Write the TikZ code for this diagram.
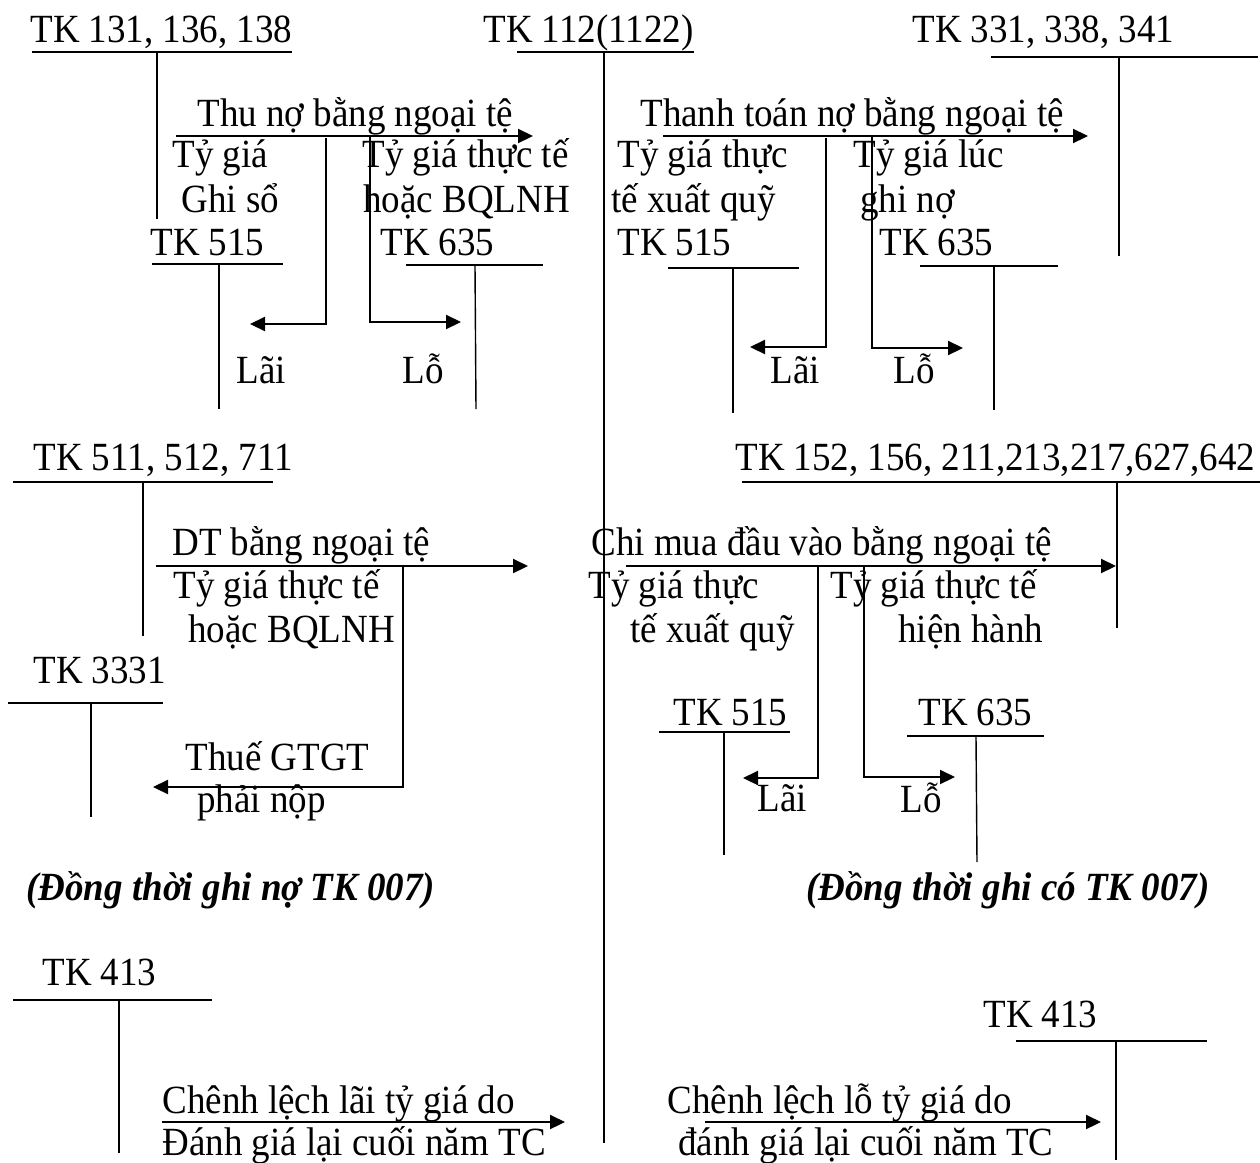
\documentclass[tikz,border=0pt]{standalone}
\usepackage{fontspec}
\usepackage{graphicx}
\setmainfont{Liberation Serif}
\usetikzlibrary{arrows.meta}
\newcommand{\sx}[1]{\scalebox{0.925}[1]{#1}}
\begin{document}
\begin{tikzpicture}[x=0.5pt,y=-0.5pt,
  lbl/.style={anchor=base west,inner sep=0pt,font=\fontsize{20}{23}\selectfont},
  note/.style={anchor=base west,inner sep=0pt,font=\fontsize{20}{23}\selectfont\bfseries\itshape},
  tline/.style={line width=0.7pt},
  arr/.style={line width=1.1pt,-{Triangle[length=7.5pt,width=7pt]}}]
\useasboundingbox[fill=white] (0,0) rectangle (1260,1163);

% ===== TK 131 =====
\node[lbl] (t131) at (30,42) {\sx{TK 131, 136, 138}};
\coordinate (t131L) at (32,52); \coordinate (t131R) at (292,52);
\coordinate (t131T) at (157,52); \coordinate (t131B) at (157,219);
\draw[tline] (t131L) -- (t131R); \draw[tline] (t131T) -- (t131B);

% ===== TK 112 =====
\node[lbl] (t112) at (483,42) {\sx{TK 112(1122)}};
\coordinate (t112L) at (517,52); \coordinate (t112R) at (694,52);
\coordinate (t112T) at (604,52); \coordinate (t112B) at (604,1143);
\draw[tline] (t112L) -- (t112R); \draw[tline] (t112T) -- (t112B);

% ===== TK 331 =====
\node[lbl] (t331) at (912,42) {\sx{TK 331, 338, 341}};
\coordinate (t331L) at (991,57); \coordinate (t331R) at (1258,57);
\coordinate (t331T) at (1119,57); \coordinate (t331B) at (1119,256);
\draw[tline] (t331L) -- (t331R); \draw[tline] (t331T) -- (t331B);

% ===== Thu no =====
\node[lbl] (thuno) at (197,126) {\sx{Thu nợ bằng ngoại tệ}};
\coordinate (a1s) at (176,136); \coordinate (a1e) at (533,136);
\draw[arr] (a1s) -- (a1e);
\node[lbl] (tg1a) at (172,167) {\sx{Tỷ giá}};
\node[lbl] (tg1b) at (181,212) {\sx{Ghi sổ}};
\node[lbl] (tg2a) at (362,167) {\sx{Tỷ giá thực tế}};
\node[lbl] (tg2b) at (363,212) {\sx{hoặc BQLNH}};
\coordinate (b1s) at (326,138); \coordinate (b1c) at (326,324); \coordinate (b1e) at (250,324);
\draw[arr] (b1s) -- (b1c) -- (b1e);
\coordinate (b2s) at (370,136); \coordinate (b2c) at (370,322); \coordinate (b2e) at (461,322);
\draw[arr] (b2s) -- (b2c) -- (b2e);
\node[lbl] (k515a) at (150,255) {\sx{TK 515}};
\coordinate (k515aL) at (152,264); \coordinate (k515aR) at (283,264);
\coordinate (k515aT) at (219,264); \coordinate (k515aB) at (219,409);
\draw[tline] (k515aL) -- (k515aR); \draw[tline] (k515aT) -- (k515aB);
\node[lbl] (k635a) at (380,255) {\sx{TK 635}};
\coordinate (k635aL) at (406,265); \coordinate (k635aR) at (543,265);
\coordinate (k635aT) at (475,265); \coordinate (k635aB) at (476,409);
\draw[tline] (k635aL) -- (k635aR); \draw[tline] (k635aT) -- (k635aB);
\node[lbl] (lai1) at (236,383) {\sx{Lãi}};
\node[lbl] (lo1) at (402,383) {\sx{Lỗ}};

% ===== Thanh toan no =====
\node[lbl] (ttno) at (640,126) {\sx{Thanh toán nợ bằng ngoại tệ}};
\coordinate (a2s) at (663,136); \coordinate (a2e) at (1088,136);
\draw[arr] (a2s) -- (a2e);
\node[lbl] (tg3a) at (617,167) {\sx{Tỷ giá thực}};
\node[lbl] (tg3b) at (611,212) {\sx{tế xuất quỹ}};
\node[lbl] (tg4a) at (853,167) {\sx{Tỷ giá lúc}};
\node[lbl] (tg4b) at (860,212) {\sx{ghi nợ}};
\coordinate (b3s) at (826,138); \coordinate (b3c) at (826,347); \coordinate (b3e) at (750,347);
\draw[arr] (b3s) -- (b3c) -- (b3e);
\coordinate (b4s) at (872,136); \coordinate (b4c) at (872,348); \coordinate (b4e) at (963,348);
\draw[arr] (b4s) -- (b4c) -- (b4e);
\node[lbl] (k515b) at (617,255) {\sx{TK 515}};
\coordinate (k515bL) at (668,268); \coordinate (k515bR) at (799,268);
\coordinate (k515bT) at (733,268); \coordinate (k515bB) at (733,413);
\draw[tline] (k515bL) -- (k515bR); \draw[tline] (k515bT) -- (k515bB);
\node[lbl] (k635b) at (879,255) {\sx{TK 635}};
\coordinate (k635bL) at (920,266); \coordinate (k635bR) at (1058,266);
\coordinate (k635bT) at (994,266); \coordinate (k635bB) at (994,410);
\draw[tline] (k635bL) -- (k635bR); \draw[tline] (k635bT) -- (k635bB);
\node[lbl] (lai2) at (770,383) {\sx{Lãi}};
\node[lbl] (lo2) at (893,383) {\sx{Lỗ}};

% ===== TK 511 =====
\node[lbl] (t511) at (33,470) {\sx{TK 511, 512, 711}};
\coordinate (t511L) at (13,482); \coordinate (t511R) at (273,482);
\coordinate (t511T) at (143,482); \coordinate (t511B) at (143,636);
\draw[tline] (t511L) -- (t511R); \draw[tline] (t511T) -- (t511B);
\node[lbl] (dt) at (172,555) {\sx{DT bằng ngoại tệ}};
\coordinate (a3s) at (156,566); \coordinate (a3e) at (528,566);
\draw[arr] (a3s) -- (a3e);
\node[lbl] (tg5a) at (173,598) {\sx{Tỷ giá thực tế}};
\node[lbl] (tg5b) at (188,642) {\sx{hoặc BQLNH}};
\coordinate (b5s) at (403,566); \coordinate (b5c) at (403,787); \coordinate (b5e) at (153,787);
\draw[arr] (b5s) -- (b5c) -- (b5e);
\node[lbl] (t3331) at (33,683) {\sx{TK 3331}};
\coordinate (t3331L) at (8,703); \coordinate (t3331R) at (163,703);
\coordinate (t3331T) at (91,703); \coordinate (t3331B) at (91,817);
\draw[tline] (t3331L) -- (t3331R); \draw[tline] (t3331T) -- (t3331B);
\node[lbl] (thue) at (185,770) {\sx{Thuế GTGT}};
\node[lbl] (phai) at (197,812) {\sx{phải nộp}};

% ===== TK 152 =====
\node[lbl] (t152) at (735,470) {\sx{TK 152, 156, 211,213,217,627,642}};
\coordinate (t152L) at (742,482); \coordinate (t152R) at (1260,482);
\coordinate (t152T) at (1117,482); \coordinate (t152B) at (1117,628);
\draw[tline] (t152L) -- (t152R); \draw[tline] (t152T) -- (t152B);
\node[lbl] (chimua) at (591,555) {\sx{Chi mua đầu vào bằng ngoại tệ}};
\coordinate (a4s) at (626,566); \coordinate (a4e) at (1116,566);
\draw[arr] (a4s) -- (a4e);
\node[lbl] (tg6a) at (588,598) {\sx{Tỷ giá thực}};
\node[lbl] (tg6b) at (630,642) {\sx{tế xuất quỹ}};
\node[lbl] (tg7a) at (830,598) {\sx{Tỷ giá thực tế}};
\node[lbl] (tg7b) at (898,642) {\sx{hiện hành}};
\coordinate (b6s) at (818,566); \coordinate (b6c) at (818,778); \coordinate (b6e) at (743,778);
\draw[arr] (b6s) -- (b6c) -- (b6e);
\coordinate (b7s) at (864,566); \coordinate (b7c) at (864,777); \coordinate (b7e) at (955,777);
\draw[arr] (b7s) -- (b7c) -- (b7e);
\node[lbl] (k515c) at (673,725) {\sx{TK 515}};
\coordinate (k515cL) at (659,732); \coordinate (k515cR) at (790,732);
\coordinate (k515cT) at (724,732); \coordinate (k515cB) at (724,855);
\draw[tline] (k515cL) -- (k515cR); \draw[tline] (k515cT) -- (k515cB);
\node[lbl] (k635c) at (918,725) {\sx{TK 635}};
\coordinate (k635cL) at (907,736); \coordinate (k635cR) at (1044,736);
\coordinate (k635cT) at (976,736); \coordinate (k635cB) at (977,862);
\draw[tline] (k635cL) -- (k635cR); \draw[tline] (k635cT) -- (k635cB);
\node[lbl] (lai3) at (757,811) {\sx{Lãi}};
\node[lbl] (lo3) at (900,812) {\sx{Lỗ}};

% ===== notes =====
\node[note] (noteL) at (26,900) {\sx{(Đồng thời ghi nợ TK 007)}};
\node[note] (noteR) at (806,900) {\sx{(Đồng thời ghi có TK 007)}};

% ===== TK 413 left =====
\node[lbl] (t413a) at (42,985) {\sx{TK 413}};
\coordinate (t413aL) at (13,1000); \coordinate (t413aR) at (212,1000);
\coordinate (t413aT) at (119,1000); \coordinate (t413aB) at (119,1153);
\draw[tline] (t413aL) -- (t413aR); \draw[tline] (t413aT) -- (t413aB);
\node[lbl] (cl1) at (162,1113) {\sx{Chênh lệch lãi tỷ giá do}};
\coordinate (a5s) at (162,1122); \coordinate (a5e) at (565,1122);
\draw[arr] (a5s) -- (a5e);
\node[lbl] (dg1) at (162,1155) {\sx{Đánh giá lại cuối năm TC}};

% ===== TK 413 right =====
\node[lbl] (t413b) at (983,1027) {\sx{TK 413}};
\coordinate (t413bL) at (1016,1041); \coordinate (t413bR) at (1207,1041);
\coordinate (t413bT) at (1116,1041); \coordinate (t413bB) at (1116,1160);
\draw[tline] (t413bL) -- (t413bR); \draw[tline] (t413bT) -- (t413bB);
\node[lbl] (cl2) at (667,1113) {\sx{Chênh lệch lỗ tỷ giá do}};
\coordinate (a6s) at (705,1122); \coordinate (a6e) at (1101,1122);
\draw[arr] (a6s) -- (a6e);
\node[lbl] (dg2) at (678,1155) {\sx{đánh giá lại cuối năm TC}};
\end{tikzpicture}
\end{document}
